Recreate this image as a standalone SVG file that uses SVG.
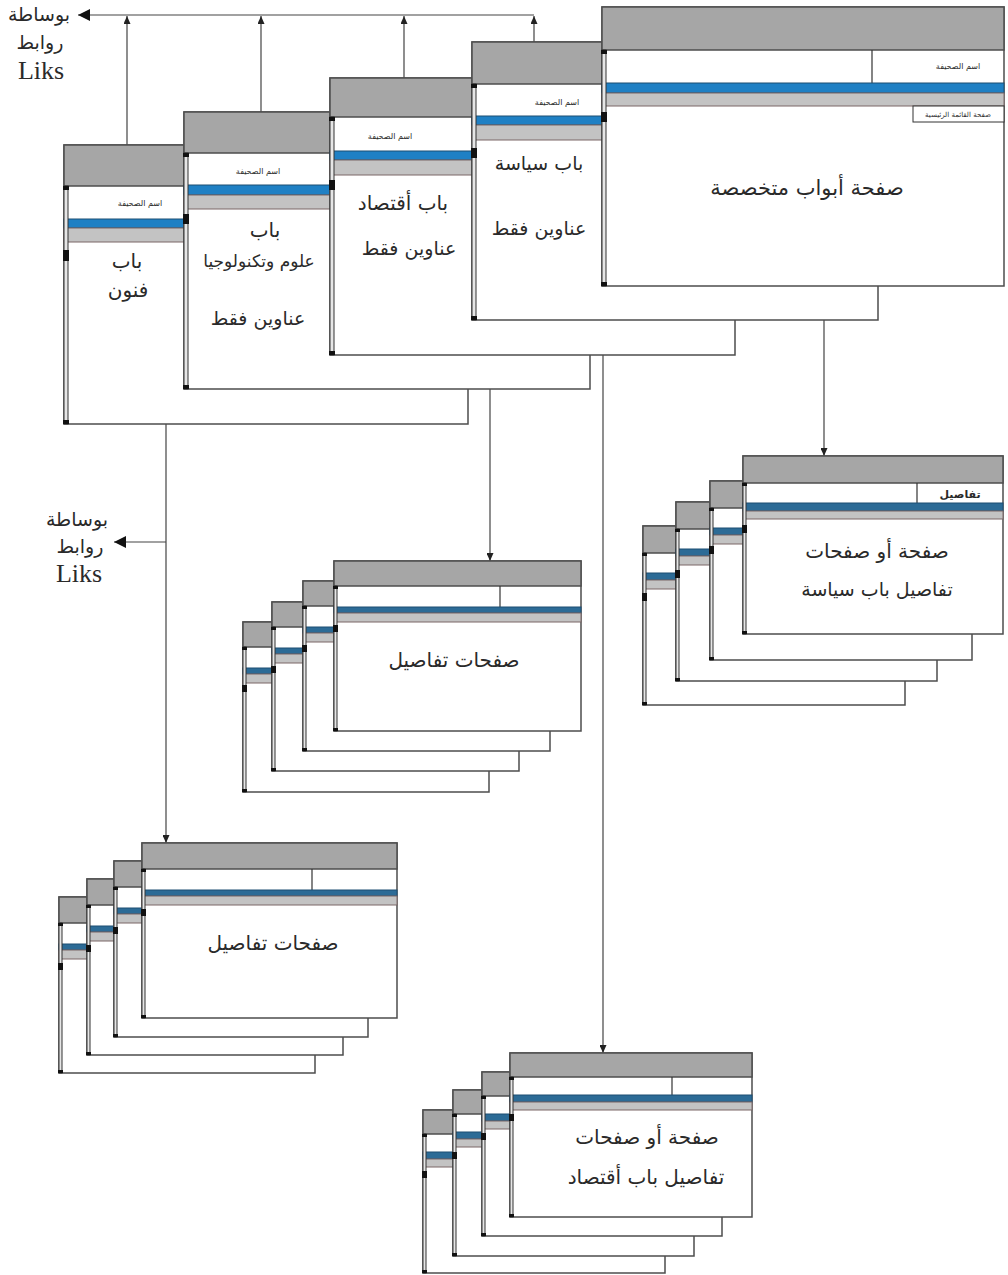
<svg xmlns="http://www.w3.org/2000/svg" width="1008" height="1275" viewBox="0 0 1008 1275">
<defs>
<marker id="ah" markerUnits="userSpaceOnUse" markerWidth="8" markerHeight="7" refX="8" refY="3.5" orient="auto"><path d="M0,0 L8,3.5 L0,7 z" fill="#222"/></marker>
<marker id="ahL" markerUnits="userSpaceOnUse" markerWidth="12" markerHeight="12" refX="12" refY="6" orient="auto"><path d="M0,0 L12,6 L0,12 z" fill="#111"/></marker>
<style>
.win{fill:#fff;stroke:#4d4d4d;stroke-width:1.5}
.hdr{fill:#a6a6a6;stroke:#4d4d4d;stroke-width:1.5}
.blue{fill:#1f80c4;stroke:#1c4e72;stroke-width:1}
.blue2{fill:#2c6b96;stroke:#1c4e72;stroke-width:1}
.strip{fill:#c3c3c3;stroke:#7a6666;stroke-width:1}
.div{stroke:#333;stroke-width:1.2}
.sb{fill:#e6e6e6;stroke:#333;stroke-width:1}
.kn{fill:#111}
.con{fill:none;stroke:#444;stroke-width:1.2}
.t{font-family:"DejaVu Sans",sans-serif;fill:#2a2a2a;text-anchor:middle}
.big{font-size:20px}
.small{font-size:8px}
.lbl{font-family:"Liberation Serif","DejaVu Sans",serif;fill:#2a2a2a;text-anchor:middle;font-size:19px}
.liks{font-family:"Liberation Serif",serif;fill:#2a2a2a;text-anchor:middle;font-size:26px}
</style>
</defs>
<rect width="1008" height="1275" fill="#fff"/>

<g id="connectors">
<line class="con" x1="534" y1="42" x2="534" y2="16" marker-end="url(#ah)"/>
<line class="con" x1="404" y1="78" x2="404" y2="16" marker-end="url(#ah)"/>
<line class="con" x1="261" y1="112" x2="261" y2="16" marker-end="url(#ah)"/>
<line class="con" x1="127" y1="145" x2="127" y2="16" marker-end="url(#ah)"/>
<line class="con" x1="534" y1="15" x2="78" y2="15" marker-end="url(#ahL)" stroke-width="1.5"/>
<line class="con" x1="824" y1="286" x2="824" y2="456" marker-end="url(#ah)"/>
<line class="con" x1="490" y1="389" x2="490" y2="561" marker-end="url(#ah)"/>
<line class="con" x1="603" y1="355" x2="603" y2="1053" marker-end="url(#ah)"/>
<line class="con" x1="166" y1="424" x2="166" y2="843" marker-end="url(#ah)"/>
<line class="con" x1="166" y1="542" x2="114" y2="542" marker-end="url(#ahL)" stroke-width="1.5"/>
</g>

<g id="label-top">
<text class="lbl" x="39" y="21">بوساطة</text>
<text class="lbl" x="40" y="49">روابط</text>
<text class="liks" x="41" y="79">Liks</text>
</g>
<g id="label-mid">
<text class="lbl" x="77" y="526">بوساطة</text>
<text class="lbl" x="80" y="553">روابط</text>
<text class="liks" x="79" y="582">Liks</text>
</g>

<!-- main chain -->
<g id="w-fonoun">
<rect class="win" x="64" y="145" width="404" height="279"/>
<rect class="hdr" x="64" y="145" width="404" height="41"/>
<rect class="blue" x="64" y="219" width="404" height="9"/>
<rect class="strip" x="64" y="228" width="404" height="14"/>
<rect class="sb" x="64" y="186" width="4" height="238"/>
<rect class="kn" x="63" y="186" width="6" height="4"/><rect class="kn" x="63" y="250" width="6" height="11"/><rect class="kn" x="63" y="420" width="6" height="4"/>
<text class="t small" x="140" y="206">اسم الصحيفة</text>
<text class="t big" x="127" y="268">باب</text>
<text class="t big" x="128" y="297">فنون</text>
</g>

<g id="w-oloum">
<rect class="win" x="184" y="112" width="406" height="277"/>
<rect class="hdr" x="184" y="112" width="406" height="41"/>
<rect class="blue" x="184" y="185" width="406" height="10"/>
<rect class="strip" x="184" y="195" width="406" height="14"/>
<rect class="sb" x="184" y="153" width="4" height="236"/>
<rect class="kn" x="183" y="153" width="6" height="4"/><rect class="kn" x="183" y="214" width="6" height="10"/><rect class="kn" x="183" y="385" width="6" height="4"/>
<text class="t small" x="258" y="174">اسم الصحيفة</text>
<text class="t big" x="265" y="237">باب</text>
<text class="t" font-size="17" x="259" y="267">علوم وتكنولوجيا</text>
<text class="t" font-size="19" x="258" y="325">عناوين فقط</text>
</g>

<g id="w-iqtisad">
<rect class="win" x="330" y="78" width="405" height="277"/>
<rect class="hdr" x="330" y="78" width="405" height="39"/>
<rect class="blue" x="330" y="151" width="405" height="9"/>
<rect class="strip" x="330" y="160" width="405" height="15"/>
<rect class="sb" x="330" y="117" width="4" height="238"/>
<rect class="kn" x="329" y="117" width="6" height="4"/><rect class="kn" x="329" y="180" width="6" height="10"/><rect class="kn" x="329" y="351" width="6" height="4"/>
<text class="t small" x="390" y="139">اسم الصحيفة</text>
<text class="t big" x="403" y="210">باب أقتصاد</text>
<text class="t" font-size="19" x="409" y="255">عناوين فقط</text>
</g>

<g id="w-siyasa">
<rect class="win" x="472" y="42" width="406" height="278"/>
<rect class="hdr" x="472" y="42" width="406" height="42"/>
<rect class="blue" x="472" y="116" width="406" height="9"/>
<rect class="strip" x="472" y="125" width="406" height="15"/>
<rect class="sb" x="472" y="84" width="4" height="236"/>
<rect class="kn" x="471" y="84" width="6" height="4"/><rect class="kn" x="471" y="148" width="6" height="10"/><rect class="kn" x="471" y="316" width="6" height="4"/>
<text class="t small" x="557" y="105">اسم الصحيفة</text>
<text class="t" font-size="19" x="539" y="170">باب سياسة</text>
<text class="t" font-size="19" x="539" y="235">عناوين فقط</text>
</g>

<g id="w-main">
<rect class="win" x="602" y="7" width="402" height="279"/>
<rect class="hdr" x="602" y="7" width="402" height="43"/>
<line class="div" x1="872" y1="50" x2="872" y2="83"/>
<rect class="blue" x="602" y="83" width="402" height="10"/>
<rect class="strip" x="602" y="93" width="402" height="13"/>
<rect x="913" y="106" width="91" height="16" fill="#fff" stroke="#333" stroke-width="1"/>
<text class="t" x="958" y="117" font-size="7">صفحة القائمة الرئيسية</text>
<rect class="sb" x="602" y="50" width="4" height="236"/>
<rect class="kn" x="601" y="50" width="6" height="4"/><rect class="kn" x="601" y="112" width="6" height="10"/><rect class="kn" x="601" y="282" width="6" height="4"/>
<text class="t small" x="958" y="69">اسم الصحيفة</text>
<text class="t" font-size="21" x="807" y="195">صفحة أبواب متخصصة</text>
</g>

<!-- stack A: siyasa details -->
<g id="stackA">
<g id="a4">
<rect class="win" x="643" y="526" width="262" height="179"/>
<rect class="hdr" x="643" y="526" width="262" height="27"/>
<rect class="blue2" x="643" y="573" width="262" height="7"/>
<rect class="strip" x="643" y="580" width="262" height="9"/>
<rect class="sb" x="643" y="553" width="3" height="152"/>
<rect class="kn" x="642" y="553" width="5" height="3"/><rect class="kn" x="642" y="593" width="5" height="8"/><rect class="kn" x="642" y="702" width="5" height="3"/>
</g>
<g id="a3">
<rect class="win" x="676" y="502" width="261" height="179"/>
<rect class="hdr" x="676" y="502" width="261" height="27"/>
<rect class="blue2" x="676" y="549" width="261" height="7"/>
<rect class="strip" x="676" y="556" width="261" height="9"/>
<rect class="sb" x="676" y="529" width="3" height="152"/>
<rect class="kn" x="675" y="529" width="5" height="3"/><rect class="kn" x="675" y="570" width="5" height="8"/><rect class="kn" x="675" y="678" width="5" height="3"/>
</g>
<g id="a2">
<rect class="win" x="710" y="481" width="262" height="179"/>
<rect class="hdr" x="710" y="481" width="262" height="27"/>
<rect class="blue2" x="710" y="528" width="262" height="7"/>
<rect class="strip" x="710" y="535" width="262" height="9"/>
<rect class="sb" x="710" y="508" width="3" height="152"/>
<rect class="kn" x="709" y="508" width="5" height="3"/><rect class="kn" x="709" y="546" width="5" height="8"/><rect class="kn" x="709" y="657" width="5" height="3"/>
</g>
<g id="a1">
<rect class="win" x="743" y="456" width="260" height="178"/>
<rect class="hdr" x="743" y="456" width="260" height="27"/>
<line class="div" x1="917" y1="483" x2="917" y2="503"/>
<rect class="blue2" x="743" y="503" width="260" height="8"/>
<rect class="strip" x="743" y="511" width="260" height="8"/>
<rect class="sb" x="743" y="483" width="3" height="151"/>
<rect class="kn" x="742" y="483" width="5" height="3"/><rect class="kn" x="742" y="525" width="5" height="8"/><rect class="kn" x="742" y="631" width="5" height="3"/>
<text class="t" x="960" y="498" font-size="11" font-weight="bold">تفاصيل</text>
<text class="t" font-size="20" x="877" y="558">صفحة أو صفحات</text>
<text class="t" font-size="19" x="877" y="596">تفاصيل باب سياسة</text>
</g>
</g>

<!-- stack B -->
<g id="stackB">
<g id="b4">
<rect class="win" x="243" y="622" width="246" height="170"/>
<rect class="hdr" x="243" y="622" width="246" height="25"/>
<rect class="blue2" x="243" y="668" width="246" height="6"/>
<rect class="strip" x="243" y="674" width="246" height="9"/>
<rect class="sb" x="243" y="647" width="3" height="145"/>
<rect class="kn" x="242" y="647" width="5" height="3"/><rect class="kn" x="242" y="685" width="5" height="7"/><rect class="kn" x="242" y="789" width="5" height="3"/>
</g>
<g id="b3">
<rect class="win" x="272" y="602" width="247" height="169"/>
<rect class="hdr" x="272" y="602" width="247" height="25"/>
<rect class="blue2" x="272" y="648" width="247" height="6"/>
<rect class="strip" x="272" y="654" width="247" height="9"/>
<rect class="sb" x="272" y="627" width="3" height="144"/>
<rect class="kn" x="271" y="627" width="5" height="3"/><rect class="kn" x="271" y="666" width="5" height="7"/><rect class="kn" x="271" y="768" width="5" height="3"/>
</g>
<g id="b2">
<rect class="win" x="303" y="581" width="247" height="170"/>
<rect class="hdr" x="303" y="581" width="247" height="25"/>
<rect class="blue2" x="303" y="627" width="247" height="6"/>
<rect class="strip" x="303" y="633" width="247" height="9"/>
<rect class="sb" x="303" y="606" width="3" height="145"/>
<rect class="kn" x="302" y="606" width="5" height="3"/><rect class="kn" x="302" y="645" width="5" height="7"/><rect class="kn" x="302" y="748" width="5" height="3"/>
</g>
<g id="b1">
<rect class="win" x="334" y="561" width="247" height="170"/>
<rect class="hdr" x="334" y="561" width="247" height="25"/>
<line class="div" x1="500" y1="586" x2="500" y2="607"/>
<rect class="blue2" x="334" y="607" width="247" height="6"/>
<rect class="strip" x="334" y="613" width="247" height="9"/>
<rect class="sb" x="334" y="586" width="3" height="145"/>
<rect class="kn" x="333" y="586" width="5" height="3"/><rect class="kn" x="333" y="625" width="5" height="7"/><rect class="kn" x="333" y="728" width="5" height="3"/>
<text class="t big" x="454" y="667">صفحات تفاصيل</text>
</g>
</g>

<!-- stack C -->
<g id="stackC">
<g id="c4">
<rect class="win" x="59" y="897" width="256" height="176"/>
<rect class="hdr" x="59" y="897" width="256" height="26"/>
<rect class="blue2" x="59" y="944" width="256" height="6"/>
<rect class="strip" x="59" y="950" width="256" height="9"/>
<rect class="sb" x="59" y="923" width="3" height="150"/>
<rect class="kn" x="58" y="923" width="5" height="3"/><rect class="kn" x="58" y="963" width="5" height="7"/><rect class="kn" x="58" y="1070" width="5" height="3"/>
</g>
<g id="c3">
<rect class="win" x="87" y="879" width="256" height="176"/>
<rect class="hdr" x="87" y="879" width="256" height="26"/>
<rect class="blue2" x="87" y="926" width="256" height="6"/>
<rect class="strip" x="87" y="932" width="256" height="9"/>
<rect class="sb" x="87" y="905" width="3" height="150"/>
<rect class="kn" x="86" y="905" width="5" height="3"/><rect class="kn" x="86" y="945" width="5" height="7"/><rect class="kn" x="86" y="1052" width="5" height="3"/>
</g>
<g id="c2">
<rect class="win" x="114" y="861" width="254" height="176"/>
<rect class="hdr" x="114" y="861" width="254" height="26"/>
<rect class="blue2" x="114" y="908" width="254" height="6"/>
<rect class="strip" x="114" y="914" width="254" height="9"/>
<rect class="sb" x="114" y="887" width="3" height="150"/>
<rect class="kn" x="113" y="887" width="5" height="3"/><rect class="kn" x="113" y="927" width="5" height="7"/><rect class="kn" x="113" y="1034" width="5" height="3"/>
</g>
<g id="c1">
<rect class="win" x="142" y="843" width="255" height="175"/>
<rect class="hdr" x="142" y="843" width="255" height="26"/>
<line class="div" x1="312" y1="869" x2="312" y2="890"/>
<rect class="blue2" x="142" y="890" width="255" height="6"/>
<rect class="strip" x="142" y="896" width="255" height="9"/>
<rect class="sb" x="142" y="869" width="3" height="149"/>
<rect class="kn" x="141" y="869" width="5" height="3"/><rect class="kn" x="141" y="909" width="5" height="7"/><rect class="kn" x="141" y="1015" width="5" height="3"/>
<text class="t big" x="273" y="950">صفحات تفاصيل</text>
</g>
</g>

<!-- stack D -->
<g id="stackD">
<g id="d4">
<rect class="win" x="423" y="1110" width="242" height="163"/>
<rect class="hdr" x="423" y="1110" width="242" height="24"/>
<rect class="blue2" x="423" y="1152" width="242" height="7"/>
<rect class="strip" x="423" y="1159" width="242" height="8"/>
<rect class="sb" x="423" y="1134" width="3" height="139"/>
<rect class="kn" x="422" y="1134" width="5" height="3"/><rect class="kn" x="422" y="1171" width="5" height="7"/><rect class="kn" x="422" y="1270" width="5" height="3"/>
</g>
<g id="d3">
<rect class="win" x="453" y="1090" width="241" height="166"/>
<rect class="hdr" x="453" y="1090" width="241" height="24"/>
<rect class="blue2" x="453" y="1132" width="241" height="7"/>
<rect class="strip" x="453" y="1139" width="241" height="8"/>
<rect class="sb" x="453" y="1114" width="3" height="142"/>
<rect class="kn" x="452" y="1114" width="5" height="3"/><rect class="kn" x="452" y="1152" width="5" height="7"/><rect class="kn" x="452" y="1253" width="5" height="3"/>
</g>
<g id="d2">
<rect class="win" x="482" y="1072" width="240" height="164"/>
<rect class="hdr" x="482" y="1072" width="240" height="24"/>
<rect class="blue2" x="482" y="1114" width="240" height="7"/>
<rect class="strip" x="482" y="1121" width="240" height="8"/>
<rect class="sb" x="482" y="1096" width="3" height="140"/>
<rect class="kn" x="481" y="1096" width="5" height="3"/><rect class="kn" x="481" y="1133" width="5" height="7"/><rect class="kn" x="481" y="1233" width="5" height="3"/>
</g>
<g id="d1">
<rect class="win" x="510" y="1053" width="242" height="164"/>
<rect class="hdr" x="510" y="1053" width="242" height="24"/>
<line class="div" x1="672" y1="1077" x2="672" y2="1095"/>
<rect class="blue2" x="510" y="1095" width="242" height="7"/>
<rect class="strip" x="510" y="1102" width="242" height="8"/>
<rect class="sb" x="510" y="1077" width="3" height="140"/>
<rect class="kn" x="509" y="1077" width="5" height="3"/><rect class="kn" x="509" y="1114" width="5" height="7"/><rect class="kn" x="509" y="1214" width="5" height="3"/>
<text class="t big" x="647" y="1144">صفحة أو صفحات</text>
<text class="t big" x="646" y="1184">تفاصيل باب أقتصاد</text>
</g>
</g>
</svg>
